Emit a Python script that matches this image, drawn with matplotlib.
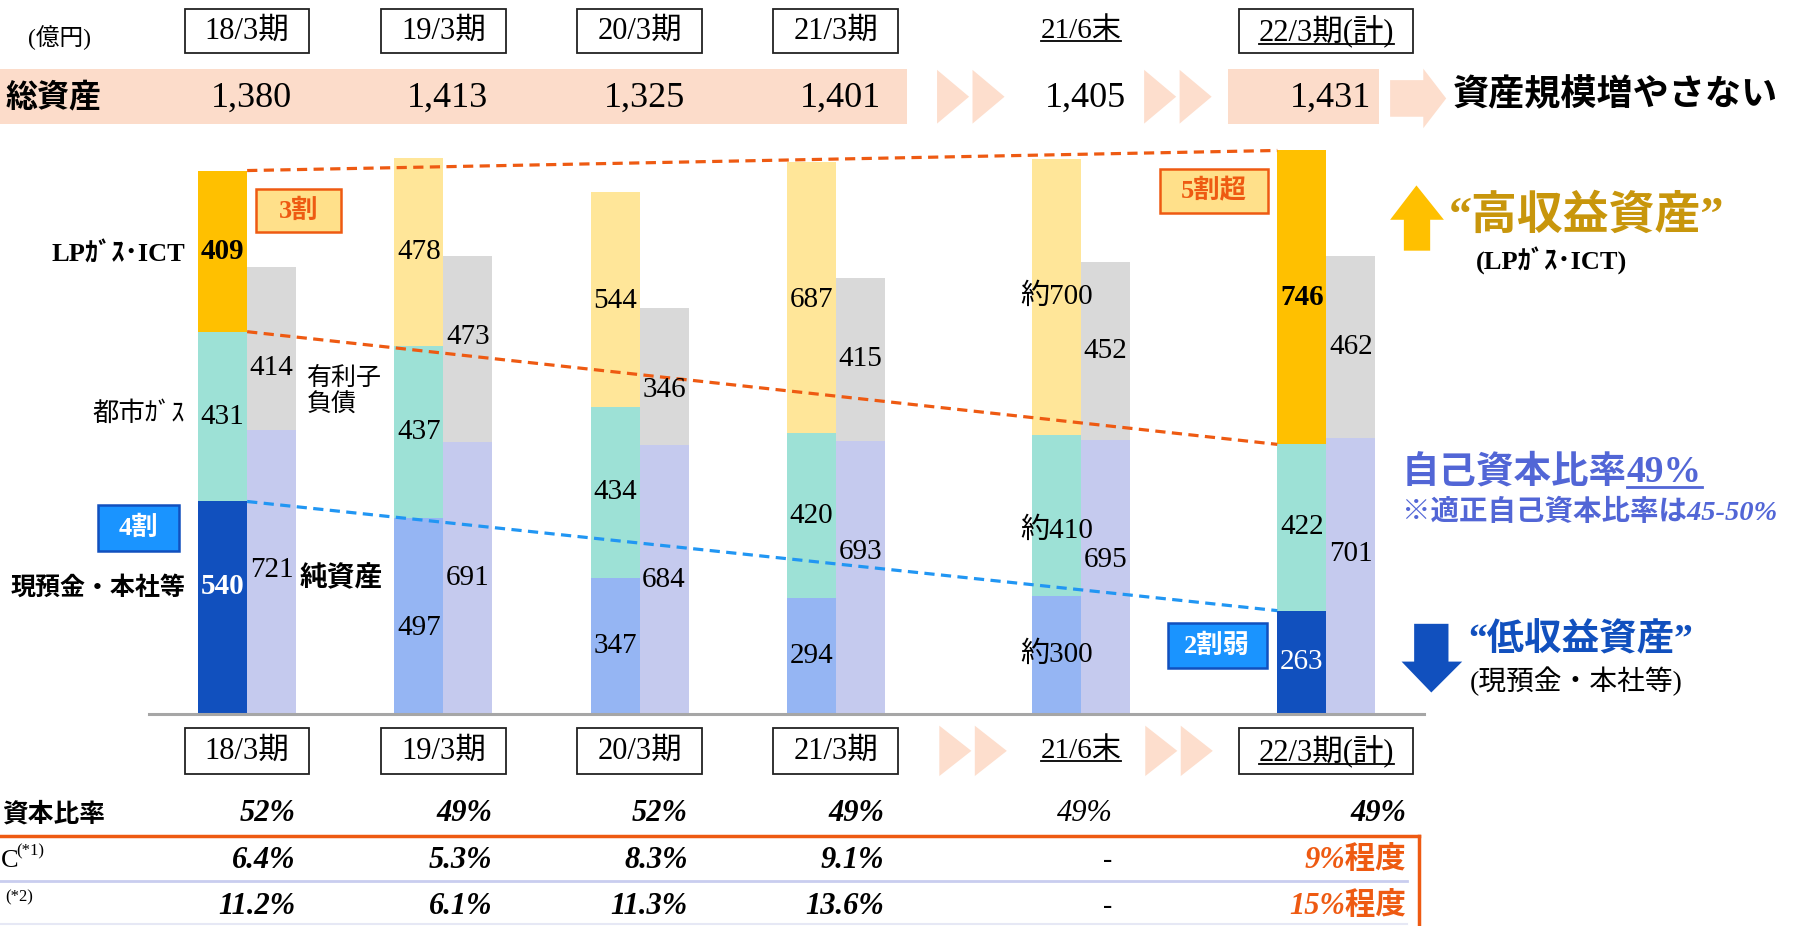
import numpy as np
import matplotlib
matplotlib.use("Agg")
import matplotlib.pyplot as plt
from matplotlib.patches import Rectangle, Polygon

SERIF = ["Liberation Serif", "Noto Sans CJK JP"]

# ---- data (億円) ----
periods = ["18/3期", "19/3期", "20/3期", "21/3期", "21/6末", "22/3期(計)"]
total_assets = ["1,380", "1,413", "1,325", "1,401", "1,405", "1,431"]
cash_hq = [540, 497, 347, 294, 300, 263]      # 現預金・本社等
city_gas = [431, 437, 434, 420, 410, 422]     # 都市ガス
lp_ict = [409, 478, 544, 687, 700, 746]       # LPガス・ICT
net_assets = [721, 691, 684, 693, 695, 701]   # 純資産
debt = [414, 473, 346, 415, 452, 462]         # 有利子負債
approx = [False, False, False, False, True, False]   # 21/6末 は概算
equity_ratio = ["52%", "49%", "52%", "49%", "49%", "49%"]
roic = ["6.4%", "5.3%", "8.3%", "9.1%", "-", "9%程度"]
roe = ["11.2%", "6.1%", "11.3%", "13.6%", "-", "15%程度"]

# ---- layout ----
xs = np.array([0, 1, 2, 3, 4.25, 5.5])   # group centres
W = 0.25
HL = {0, 5}                              # highlighted periods
PX0, UNIT, BASE, PPV = 216, 171.5, 624, 0.3442   # reference px mapping
PW, PH = 1568, 809

ORANGE = "#EE5A12"
BLUE_D = "#1150BE"
PEACH = "#FCDCCA"
PURPLE = "#5266D6"

fig = plt.figure(figsize=(17.94, 9.26), dpi=100)
ax = fig.add_axes([0, 0, 1, 1])
ax.set_xlim(-PX0 / UNIT, (PW - PX0) / UNIT)
ax.set_ylim(-(PH - BASE) / PPV, BASE / PPV)
ax.axis("off")
ov = fig.add_axes([0, 0, 1, 1], facecolor="none")
ov.set_xlim(0, PW)
ov.set_ylim(PH, 0)
ov.axis("off")

gx = PX0 + xs * UNIT   # group centres in px


def txt(x, y, s, size, **kw):
    kw.setdefault("family", SERIF)
    kw.setdefault("ha", "center")
    kw.setdefault("va", "center")
    return ov.text(x, y, s, fontsize=size, **kw)


def underline(t, color="black", lw=1.3):
    r = fig.canvas.get_renderer()
    bb = t.get_window_extent(r)
    inv = ov.transData.inverted()
    (x0, y0), (x1, y1) = inv.transform([[bb.x0, bb.y0], [bb.x1, bb.y1]])
    ov.plot([x0, x1], [y0 - 3, y0 - 3], color=color, lw=lw)


def chevrons(x0, y0, y1, w=28, gap=3):
    ym = (y0 + y1) / 2
    for k in range(2):
        a = x0 + k * (w + gap)
        ov.add_patch(Polygon([(a, y0), (a + w, ym), (a, y1)], closed=True,
                             color="#FDDECD", lw=0))


# ---- bars ----
left = xs - W / 2
right = xs + W / 2
cash_c = [BLUE_D if i in HL else "#95B5F3" for i in range(len(xs))]
lp_c = ["#FFC000" if i in HL else "#FFE699" for i in range(len(xs))]
b1 = np.array(cash_hq)
b2 = b1 + np.array(city_gas)
tot = b2 + np.array(lp_ict)
ax.bar(left, cash_hq, W, color=cash_c, lw=0)
ax.bar(left, city_gas, W, bottom=b1, color="#9DE1D6", lw=0)
ax.bar(left, lp_ict, W, bottom=b2, color=lp_c, lw=0)
ax.bar(right, net_assets, W, color="#C5CAEE", lw=0)
ax.bar(right, debt, W, bottom=net_assets, color="#D9D9D9", lw=0)

# value labels (small nudges in value units)
nudge = {("cash", 0): 55, ("cash", 1): -30, ("city", 4): -40, ("na", 3): 65,
         ("na", 4): 45, ("na", 5): 55, ("na", 0): 5, ("debt", 0): -50,
         ("debt", 1): 30, ("debt", 2): -35, ("lp", 2): -5, ("lp", 3): -5}
bold_labels = {("lp", 0), ("cash", 0), ("lp", 5)}
for i in range(len(xs)):
    hl = i in HL
    pre = "約" if approx[i] else ""
    segs = [("cash", left[i], 0, cash_hq[i], "white" if hl else "black"),
            ("city", left[i], b1[i], city_gas[i], "black"),
            ("lp", left[i], b2[i], lp_ict[i], "black"),
            ("na", right[i], 0, net_assets[i], "black"),
            ("debt", right[i], net_assets[i], debt[i], "black")]
    for key, x, bot, v, c in segs:
        y = bot + v / 2 + nudge.get((key, i), 0)
        s = (pre + str(v)) if key in ("cash", "city", "lp") else str(v)
        ax.text(x, y, s, ha="center", va="center", fontsize=21, color=c,
                family=SERIF,
                fontweight="bold" if (key, i) in bold_labels else "normal",
                zorder=6)

# dashed guide lines 18/3 -> 22/3
xa, xb = xs[0], xs[-1] - W
for lvl, col in [(tot, ORANGE), (b2, ORANGE), (b1, "#2196F3")]:
    ax.plot([xa, xb], [lvl[0], lvl[-1]], color=col, lw=2.3,
            ls=(0, (3.2, 2.0)), zorder=5)

ov.plot([130, 1245], [BASE, BASE], color="#A6A6A6", lw=2.2)

# ---- header rows (top and bottom) ----
labs = []
for i, p in enumerate(periods):
    for yc, hgt in [(27, 38), (656, 40)]:
        if p == "21/6末":
            t = txt(gx[i], yc, p, 21)
            labs.append(t)
            continue
        bw = 152 if i == 5 else 109
        ov.add_patch(Rectangle((gx[i] - bw / 2, yc - hgt / 2), bw, hgt,
                               fill=False, ec="#222222", lw=1.3))
        t = txt(gx[i], yc, p, 22)
        if i == 5:
            labs.append(t)
txt(52, 33, "(億円)", 17)

# total assets band
ov.add_patch(Rectangle((0, 60), 793, 48, color=PEACH, lw=0))
ov.add_patch(Rectangle((1073, 60), 132, 48, color=PEACH, lw=0))
ov.add_patch(Polygon([(1215, 70), (1244, 70), (1244, 60), (1264, 86), (1244, 112),
                      (1244, 102), (1215, 102)], closed=True, color="#FDDECD", lw=0))
chevrons(819, 61, 108)
chevrons(1000, 61, 108)
chevrons(821, 634, 678)
chevrons(1001, 634, 678)
txt(5, 86, "総資産", 23, ha="left", fontweight="bold")
for i, v in enumerate(total_assets):
    txt(gx[i] + 4, 86, v, 26)
txt(1270, 84, "資産規模増やさない", 26, ha="left", fontweight="bold")

# ---- left labels ----
txt(162, 222, "LPｶﾞｽ･ICT", 19, ha="right", fontweight="bold")
txt(162, 361, "都市ｶﾞｽ", 19, ha="right")
txt(162, 514, "現預金・本社等", 18, ha="right", fontweight="bold")
txt(268, 342, "有利子\n負債", 18, ha="left", linespacing=1.2)
txt(262, 506, "純資産", 20, ha="left", fontweight="bold")

# ---- share boxes ----
for s, cx, cy, bw, bh, fc, ec, tc in [
        ("3割", 261, 184, 74, 38, "#FFE08A", ORANGE, ORANGE),
        ("5割超", 1061, 167, 94, 38, "#FFE08A", ORANGE, ORANGE),
        ("4割", 121, 461, 71, 40, "#1A94FF", BLUE_D, "white"),
        ("2割弱", 1064, 564, 86, 39, "#1A94FF", BLUE_D, "white")]:
    ov.add_patch(Rectangle((cx - bw / 2, cy - bh / 2), bw, bh, fc=fc, ec=ec, lw=1.8))
    txt(cx, cy, s, 19, color=tc, fontweight="bold")

# ---- right annotations ----
ov.add_patch(Polygon([(1238, 162), (1262, 192), (1250, 192), (1250, 219),
                      (1227, 219), (1227, 192), (1215, 192)], closed=True,
                     color="#FFC000", lw=0))
txt(1266, 190, "“高収益資産”", 33, ha="left", fontweight="bold", color="#C8960C")
txt(1290, 228, "(LPｶﾞｽ･ICT)", 19, ha="left", fontweight="bold")
t1 = txt(1225, 413, "自己資本比率", 27, ha="left", fontweight="bold", color=PURPLE)
r = fig.canvas.get_renderer()
bb = t1.get_window_extent(r)
xr = ov.transData.inverted().transform([[bb.x1, bb.y0]])[0][0]
t2 = txt(xr, 413, "49%", 27, ha="left", fontweight="bold", color=PURPLE)
underline(t2, color=PURPLE, lw=2)
txt(1225, 448, "※適正自己資本比率は45-50%", 20.5, ha="left", fontweight="bold",
    style="italic", color=PURPLE)
ov.add_patch(Polygon([(1236, 545), (1266, 545), (1266, 578), (1278, 578),
                      (1251, 605), (1225, 578), (1236, 578)], closed=True,
                     color=BLUE_D, lw=0))
txt(1283, 560, "“低収益資産”", 27, ha="left", fontweight="bold", color=BLUE_D)
txt(1285, 595, "(現預金・本社等)", 20, ha="left")

# ---- table (row labels are cut by the left edge in the source slide) ----
table_right = [258, 430, 601, 773, 973, 1229]
rows_y = [711, 752, 792]
txt(2, rows_y[0], "資本比率", 18.5, ha="left", fontweight="bold")
txt(1, rows_y[1], "C", 19, ha="left")
txt(14, rows_y[1] - 8, "(*1)", 12, ha="left")
txt(5, rows_y[2] - 8, "(*2)", 12, ha="left")
for i in range(len(xs)):
    wt = "normal" if i == 4 else "bold"
    txt(table_right[i], rows_y[0], equity_ratio[i], 22, ha="right",
        style="italic", fontweight=wt)
    for row, vals in [(1, roic), (2, roe)]:
        v = vals[i]
        if v == "-":
            txt(968, rows_y[row], v, 20)
        else:
            txt(table_right[i], rows_y[row], v, 22, ha="right", style="italic",
                fontweight="bold", color=ORANGE if i == 5 else "black")
ov.plot([0, 1240], [730, 730], color=ORANGE, lw=2.5)
ov.plot([1240, 1240], [730, 812], color=ORANGE, lw=2.5)
ov.plot([0, 1230], [770, 770], color="#C9CDEF", lw=2)
ov.plot([0, 1230], [807, 807], color="#E6E8F5", lw=1.5)

for t in labs:
    underline(t)

fig.savefig("out.png", dpi=100)
